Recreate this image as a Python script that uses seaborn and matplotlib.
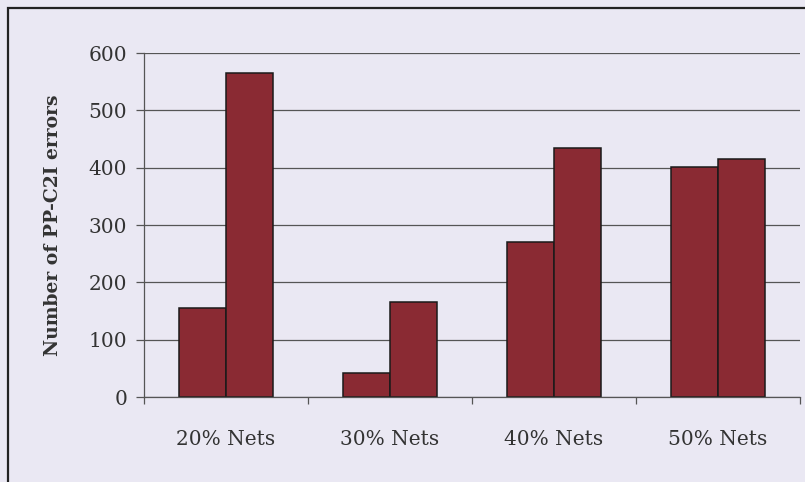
import matplotlib
matplotlib.use("Agg")
import matplotlib.pyplot as plt
import seaborn as sns
import pandas as pd
from matplotlib.patches import Rectangle

categories = ["20% Nets", "30% Nets", "40% Nets", "50% Nets"]
series_a = [155, 42, 271, 402]
series_b = [565, 166, 434, 416]
series_names = ["A", "B"]
y_ticks = [0, 100, 200, 300, 400, 500, 600]

df = pd.DataFrame({
    "category": categories * 2,
    "series": [series_names[0]] * 4 + [series_names[1]] * 4,
    "value": series_a + series_b,
})

sns.set_theme(style="white")
plt.rcParams["font.family"] = ["DejaVu Serif"]

bg = "#EAE8F3"
bar_color = "#8A2A33"

fig = plt.figure(figsize=(8.05, 4.82), dpi=100, facecolor=bg)
ax = fig.add_axes([0.1789, 0.1763, 0.8149, 0.7137])
ax.set_facecolor(bg)

sns.barplot(data=df, x="category", y="value", hue="series",
            palette=[bar_color, bar_color], width=0.57, gap=0,
            edgecolor="#1a1a1a", linewidth=1.1, saturation=1,
            legend=False, ax=ax)

ax.set_ylim(0, 600)
ax.set_xlim(-0.5, 3.5)
ax.set_yticks(y_ticks)
ax.set_yticklabels([str(t) for t in y_ticks], fontsize=14.5, color="#333333")
ax.yaxis.grid(True, color="#555555", linewidth=0.9)
ax.set_axisbelow(True)

ax.set_xticks(range(len(categories)))
ax.set_xticklabels(categories, fontsize=14.5, color="#333333")
ax.tick_params(axis="x", which="major", length=0, pad=24)
ax.set_xticks([-0.5, 0.5, 1.5, 2.5, 3.5], minor=True)
ax.tick_params(axis="x", which="minor", length=5, width=0.9, color="#555555", direction="out", bottom=True)
ax.tick_params(axis="y", which="major", length=6, width=0.9, color="#555555", left=True, pad=6)

for s in ["top", "right"]:
    ax.spines[s].set_visible(False)
for s in ["left", "bottom"]:
    ax.spines[s].set_color("#555555")
    ax.spines[s].set_linewidth(0.9)

ax.set_xlabel("")
ax.set_ylabel("Number of PP-C2I errors", fontsize=13.5, fontweight="bold",
              color="#333333", labelpad=19)

fig.patches.append(Rectangle((8 / 805, -0.1), 1.2, 0.1 + (1 - 8 / 482),
                             transform=fig.transFigure, fill=False,
                             edgecolor="#222222", linewidth=1.6))

fig.savefig("out.png", dpi=100, facecolor=bg)
